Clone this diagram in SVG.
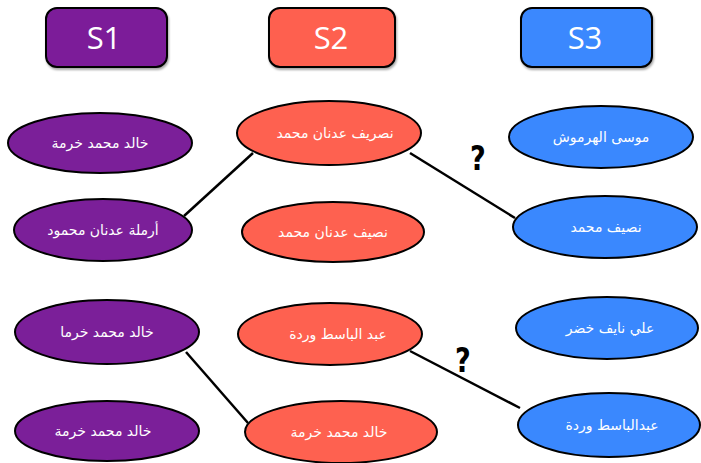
<svg xmlns="http://www.w3.org/2000/svg" width="701" height="463" viewBox="0 0 701 463">
<defs>
<filter id="sh" x="-10%" y="-10%" width="130%" height="140%"><feDropShadow dx="1" dy="2" stdDeviation="1.2" flood-color="#000" flood-opacity="0.35"/></filter>
</defs>
<style>
.hdr{stroke:#000;stroke-width:2;filter:url(#sh)}
.p{fill:#7b1f99}
.r{fill:#fe6150}
.b{fill:#3a88fe}
ellipse{stroke:#000;stroke-width:2}
.ht{font-family:"Open Sans","Lato",sans-serif;font-size:31px;fill:#fff;text-anchor:middle}
.t{font-family:"DejaVu Sans",sans-serif;font-size:14px;fill:#fff;text-anchor:middle;direction:rtl}
.q{font-family:"DejaVu Sans",sans-serif;font-size:34px;font-weight:bold;fill:#000;text-anchor:middle}
#connectors line{stroke:#000;stroke-width:2.5}
</style>
<g id="hdr-s1"><rect class="hdr p" x="46" y="8" width="121" height="59" rx="11"/><text class="ht" x="104" y="49">S1</text></g>
<g id="hdr-s2"><rect class="hdr r" x="269" y="8" width="126" height="59" rx="11"/><text class="ht" x="331" y="49">S2</text></g>
<g id="hdr-s3"><rect class="hdr b" x="521" y="8" width="131" height="59" rx="11"/><text class="ht" x="585" y="49">S3</text></g>

<g id="connectors">
<line x1="184" y1="216" x2="253" y2="153"/>
<line x1="410" y1="153" x2="515" y2="218"/>
<line x1="186" y1="352" x2="248" y2="423"/>
<line x1="410" y1="351" x2="520" y2="408"/>
</g>
<text class="q" x="478" y="170" transform="translate(478 0) scale(0.8 1) translate(-478 0)">?</text>
<text class="q" x="463" y="372" transform="translate(463 0) scale(0.8 1) translate(-463 0)">?</text>

<g id="s1-1"><ellipse class="p" cx="100" cy="143" rx="92" ry="30"/><text class="t" x="100" y="148">خالد محمد خرمة</text></g>
<g id="s1-2"><ellipse class="p" cx="103" cy="230" rx="89" ry="31"/><text class="t" x="103" y="235">أرملة عدنان محمود</text></g>
<g id="s1-3"><ellipse class="p" cx="107" cy="332" rx="92" ry="32"/><text class="t" x="107" y="337">خالد محمد خرما</text></g>
<g id="s1-4"><ellipse class="p" cx="107" cy="431" rx="92" ry="30"/><text class="t" x="103" y="436">خالد محمد خرمة</text></g>

<g id="s2-1"><ellipse class="r" cx="329" cy="133" rx="92" ry="32"/><text class="t" x="335" y="138">نصريف عدنان محمد</text></g>
<g id="s2-2"><ellipse class="r" cx="333" cy="232" rx="91" ry="30"/><text class="t" x="333" y="237">نصيف عدنان محمد</text></g>
<g id="s2-3"><ellipse class="r" cx="330" cy="334" rx="92" ry="31"/><text class="t" x="338" y="339">عبد الباسط وردة</text></g>
<g id="s2-4"><ellipse class="r" cx="341" cy="432" rx="96" ry="31"/><text class="t" x="339" y="437">خالد محمد خرمة</text></g>

<g id="s3-1"><ellipse class="b" cx="601" cy="137" rx="92" ry="31"/><text class="t" x="601" y="142">موسى الهرموش</text></g>
<g id="s3-2"><ellipse class="b" cx="605" cy="227" rx="92" ry="31"/><text class="t" x="606" y="232">نصيف محمد</text></g>
<g id="s3-3"><ellipse class="b" cx="607" cy="328" rx="91" ry="31"/><text class="t" x="610" y="333">علي نايف خضر</text></g>
<g id="s3-4"><ellipse class="b" cx="609" cy="425" rx="91" ry="32"/><text class="t" x="612" y="430">عبدالباسط وردة</text></g>
</svg>
